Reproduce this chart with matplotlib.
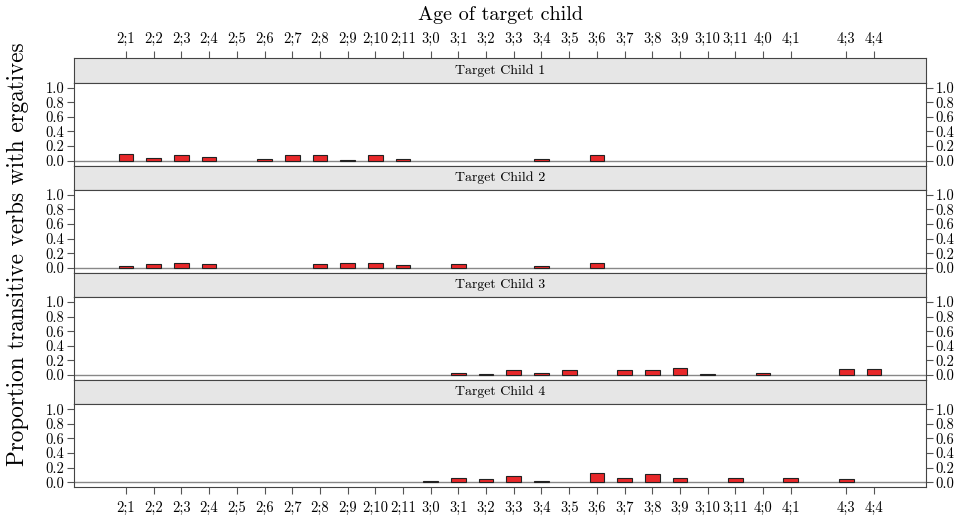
import numpy as np
import matplotlib.pyplot as plt

plt.rcParams['font.family'] = 'serif'
plt.rcParams['font.serif'] = ['cmr10', 'DejaVu Serif']
plt.rcParams['axes.formatter.use_mathtext'] = True

nan = np.nan

# Ages (years;months) on the x axis, 4;2 has no data
ages = ['2;1', '2;2', '2;3', '2;4', '2;5', '2;6', '2;7', '2;8', '2;9', '2;10', '2;11',
        '3;0', '3;1', '3;2', '3;3', '3;4', '3;5', '3;6', '3;7', '3;8', '3;9', '3;10', '3;11',
        '4;0', '4;1', '4;3', '4;4']

child1 = [0.096, 0.033, 0.074, 0.05, nan, 0.023, 0.082, 0.074, 0.01, 0.082, 0.023,
          nan, nan, nan, nan, 0.023, nan, 0.074, nan, nan, nan, nan, nan,
          nan, nan, nan, nan]
child2 = [0.023, 0.046, 0.064, 0.055, nan, nan, nan, 0.055, 0.064, 0.064, 0.037,
          nan, 0.046, nan, nan, 0.02, nan, 0.064, nan, nan, nan, nan, nan,
          nan, nan, nan, nan]
child3 = [nan, nan, nan, nan, nan, nan, nan, nan, nan, nan, nan,
          nan, 0.022, 0.01, 0.065, 0.03, 0.068, nan, 0.068, 0.068, 0.1, 0.012, nan,
          0.03, nan, 0.078, 0.078]
child4 = [nan, nan, nan, nan, nan, nan, nan, nan, nan, nan, nan,
          0.01, 0.06, 0.045, 0.082, 0.01, nan, 0.12, 0.063, 0.105, 0.063, nan, 0.063,
          nan, 0.055, 0.04, nan]

series = [child1, child2, child3, child4]
names = ['Target Child 1', 'Target Child 2', 'Target Child 3', 'Target Child 4']

# age in months
months = np.array([int(a.split(';')[0]) * 12 + int(a.split(';')[1]) for a in ages])

W, H = 959, 516
fig = plt.figure(figsize=(W / 100, H / 100), dpi=100)

left, right = 74, 926
top0 = 58.3
strip_h = 24.4
block_h = 107.2
xlim = (25 - (126 - left) / 27.7, 25 + (right - 126) / 27.7)
border = '#444444'
tickcol = '#555555'

def fr(x0, y0, x1, y1):
    return [x0 / W, 1 - y1 / H, (x1 - x0) / W, (y1 - y0) / H]

for i, (vals, name) in enumerate(zip(series, names)):
    t = top0 + i * block_h
    # strip
    sax = fig.add_axes(fr(left, t, right, t + strip_h))
    sax.set_facecolor('#E6E6E6')
    sax.set_xlim(*xlim)
    sax.set_ylim(0, 1)
    sax.set_yticks([])
    sax.text(0.5, 0.5, name, transform=sax.transAxes, ha='center', va='center', fontsize=10)
    for s in sax.spines.values():
        s.set_color(border)
    if i == 0:
        sax.xaxis.tick_top()
        sax.set_xticks(months)
        sax.set_xticklabels(ages, fontsize=10.5, va='baseline')
        sax.tick_params(axis='x', length=5, color=tickcol, pad=6)
    else:
        sax.set_xticks([])

    # panel
    ax = fig.add_axes(fr(left, t + strip_h, right, t + block_h))
    v = np.array(vals, dtype=float)
    ok = ~np.isnan(v)
    ax.axhline(0, color='#888888', lw=1.0, zorder=1)
    ax.bar(months[ok], v[ok], width=0.53, color='#E8282A', edgecolor='#222222',
           linewidth=0.8, zorder=2)
    ax.set_xlim(*xlim)
    ax.set_ylim(-0.068, 1.068)
    ax.set_yticks([0, 0.2, 0.4, 0.6, 0.8, 1.0])
    ax.set_yticklabels(['0.0', '0.2', '0.4', '0.6', '0.8', '1.0'], fontsize=10.5)
    ax.tick_params(axis='y', left=True, right=True, labelleft=True, labelright=True,
                   length=5, color=tickcol, pad=2)
    for s in ax.spines.values():
        s.set_color(border)
    if i == 3:
        ax.set_xticks(months)
        ax.set_xticklabels(ages, fontsize=10.5, va='baseline')
        ax.tick_params(axis='x', length=5, color=tickcol, pad=13)
    else:
        ax.set_xticks([])

fig.text(500 / W, 1 - 15 / H, 'Age of target child', ha='center', va='center', fontsize=14.5)
fig.text(18 / W, 1 - 254 / H, 'Proportion transitive verbs with ergatives', rotation=90,
         ha='center', va='center', fontsize=16.7)

fig.savefig('out.png', dpi=100)
